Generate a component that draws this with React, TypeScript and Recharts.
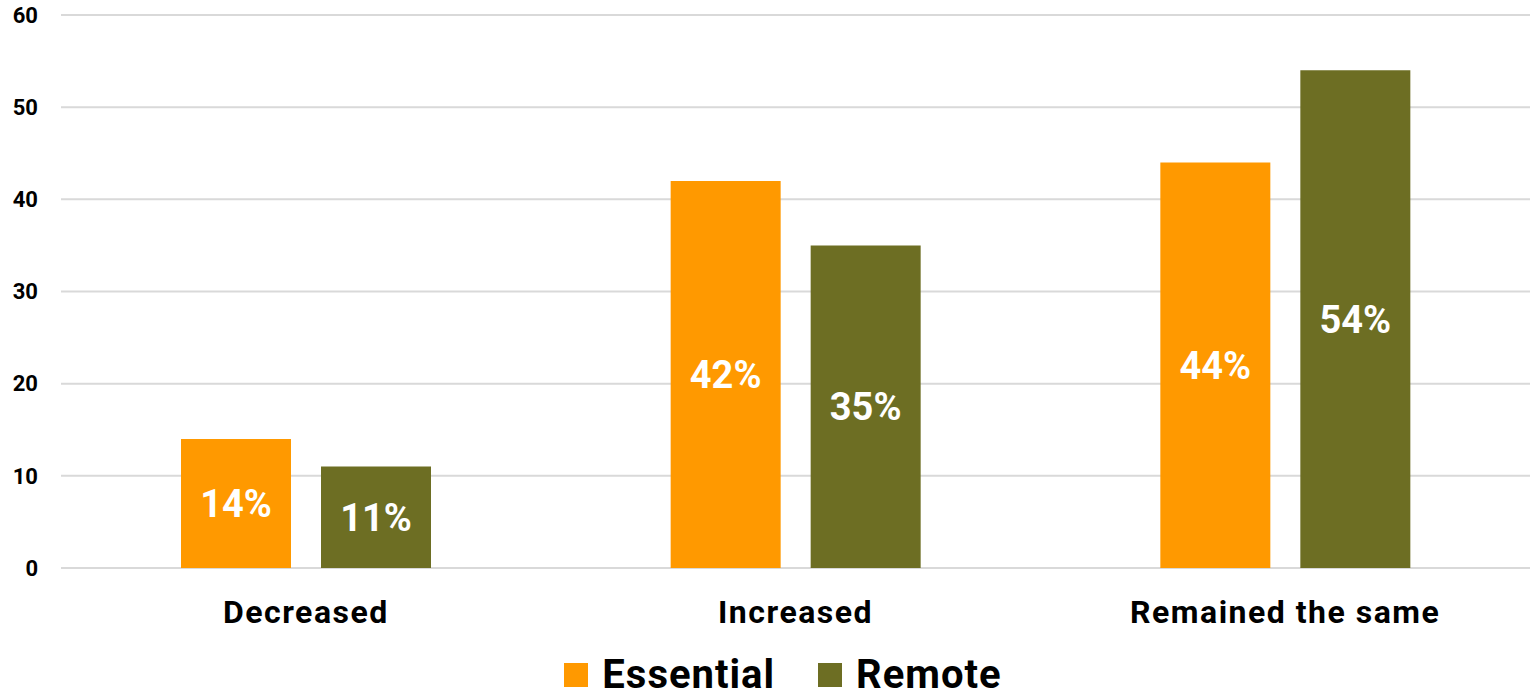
import { BarChart, Bar, XAxis, YAxis, CartesianGrid, LabelList, Legend } from 'recharts'

const categories = ['Decreased', 'Increased', 'Remained the same']
const essential = [14, 42, 44]
const remote = [11, 35, 54]
const yTicks = [0, 10, 20, 30, 40, 50, 60]

const SERIES = [
  { key: 'essential', name: 'Essential', color: '#FF9900' },
  { key: 'remote', name: 'Remote', color: '#6D6E23' },
]

const data = categories.map((c, i) => ({ category: c, essential: essential[i], remote: remote[i] }))

const FONT = 'Roboto, "Noto Sans", sans-serif'

function LegendBox() {
  return (
    <div
      style={{
        display: 'flex',
        justifyContent: 'center',
        alignItems: 'center',
        gap: 43,
        height: 56,
        boxSizing: 'border-box',
        paddingTop: 14,
        paddingLeft: 36,
        fontFamily: FONT,
      }}
    >
      {SERIES.map((s) => (
        <div key={s.key} style={{ display: 'flex', alignItems: 'center', gap: 14 }}>
          <span style={{ width: 24, height: 24, background: s.color, display: 'inline-block' }} />
          <span style={{ fontSize: 40, fontWeight: 700, color: '#000', lineHeight: '40px', letterSpacing: 1 }}>
            {s.name}
          </span>
        </div>
      ))}
    </div>
  )
}

export default function App() {
  return (
    <div style={{ position: 'absolute', left: 0, top: 0, width: 1530, height: 696, background: '#fff' }}>
      <BarChart
        width={1530}
        height={696}
        data={data}
        margin={{ top: 15, right: 0, bottom: 0, left: 0 }}
        barSize={110}
        barGap={30}
      >
        <CartesianGrid vertical={false} stroke="#D9D9D9" strokeWidth={2} />
        <XAxis
          dataKey="category"
          axisLine={false}
          tickLine={false}
          tickSize={0}
          tickMargin={32}
          height={72}
          tick={{ fontSize: 32, fontWeight: 700, fill: '#000', fontFamily: FONT, letterSpacing: 1.5 }}
        />
        <YAxis
          domain={[0, 60]}
          ticks={yTicks}
          width={61}
          axisLine={false}
          tickLine={false}
          tickSize={0}
          tickMargin={23}
          tick={{ fontSize: 22, fontWeight: 700, fill: '#000', fontFamily: FONT }}
        />
        {SERIES.map((s) => (
          <Bar key={s.key} dataKey={s.key} name={s.name} fill={s.color} isAnimationActive={false}>
            <LabelList
              dataKey={s.key}
              position="center"
              formatter={(v: any) => `${v}%`}
              style={{ fill: '#fff', fontSize: 38, fontWeight: 700, fontFamily: FONT }}
            />
          </Bar>
        ))}
        <Legend content={() => <LegendBox />} verticalAlign="bottom" height={56} />
      </BarChart>
    </div>
  )
}
